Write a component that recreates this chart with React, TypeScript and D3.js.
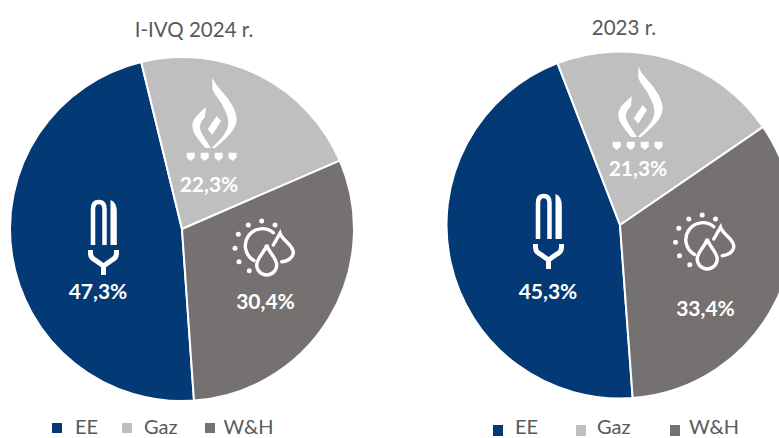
import React from "react";
import * as d3 from "d3";

const categories = ["EE", "Gaz", "W&H"];
const colors = ["#033A75", "#BFBFBF", "#767171"];
const titles = ["I-IVQ 2024 r.", "2023 r."];
const values2024 = [47.3, 22.3, 30.4];
const values2023 = [45.3, 21.3, 33.4];
const labels2024 = ["47,3%", "22,3%", "30,4%"];
const labels2023 = ["45,3%", "21,3%", "33,4%"];

const FONT = "Lato, 'Open Sans', sans-serif";

function Bulb({ x, y }: { x: number; y: number }) {
  return (
    <g transform={`translate(${x},${y})`} fill="none" stroke="#fff">
      <path d="M-10,23 V-13 Q-10,-20 -4.2,-20 Q1.5,-20 1.5,-13 V23" strokeWidth={4.5} />
      <path d="M7.5,23 V-22 Q13.8,-20 13.8,-10 V23 Z" fill="#fff" stroke="none" />
      <path d="M-12.5,28 V31 Q-12.5,36 -8,38 L0.5,44 L9,38 Q13.5,36 13.5,31 V28" strokeWidth={5} />
      <path d="M0.5,43 V53" strokeWidth={5} />
    </g>
  );
}

function Flame({ x, y }: { x: number; y: number }) {
  return (
    <g transform={`translate(${x},${y})`} fill="#fff">
      <path d="M-1.7,-40 C2,-28 21,-17 22.7,1.7 C23,13 11,22 1,31 L-2.3,31 C6,23 14.5,15 14.3,5 C14,-3 10,-8 7.7,-13.3 C4,-19 0,-23 -1.7,-28 Z" />
      <path d="M-8.3,-10 L-9,0 C-12,3 -14.5,7 -14,11.7 C-13,17 -7,24 -3,31 L-9,31 C-13,25 -22,17 -21.7,8.3 C-21.5,1 -13,-5 -8.3,-10 Z" />
      <path d="M2.7,-1 L7,4 L-1.7,17.7 L-6.3,12.3 Z" />
      {[-27.3, -13.3, 0.7, 14.5].map((d) => (
        <path key={d} d={`M${d},35.7 h8 v5 l-4,3.3 l-4,-3.3 Z`} />
      ))}
    </g>
  );
}

function Drops({ x, y }: { x: number; y: number }) {
  const dots = [[-3.3, -26], [-16.7, -22], [10, -22], [-26.7, -12.7], [-30, 1.3], [-26, 14.7], [-15.7, 23.7]];
  return (
    <g transform={`translate(${x},${y})`} fill="none" stroke="#fff" strokeWidth={3.4} strokeLinecap="round">
      <path d="M8.3,-14.3 A17,17 0 1 0 -11,13.5" />
      <path d="M8.3,-2 L15,-13.7 C17,-7 28,-2 28.3,5 C28.5,10 23,14.5 16.7,14.7" />
      <path d="M1.7,-2 C3.5,5 11.7,11 11.7,18 A10,10 0 0 1 -8.3,18 C-8.3,11 0,5 1.7,-2 Z" />
      {dots.map(([a, b], i) => (
        <circle key={i} cx={a} cy={b} r={2.5} fill="#fff" stroke="none" />
      ))}
    </g>
  );
}

function Pie({ values, labels, title, cx, cy, r, start, titleY, labelPos, icons, legendXs, legendTextXs, legendY, rectY, rectH }: any) {
  const pie = d3
    .pie<number>()
    .sort(null)
    .startAngle((start * Math.PI) / 180)
    .endAngle((start * Math.PI) / 180 + 2 * Math.PI);
  const arc = d3.arc<d3.PieArcDatum<number>>().innerRadius(0).outerRadius(r);
  const arcs = pie(values);
  return (
    <g>
      <text x={title.x} y={titleY} textAnchor="middle" fontFamily={FONT} fontSize={20.5} fill="#595959">
        {title.text}
      </text>
      <g transform={`translate(${cx},${cy})`}>
        {arcs.map((a: any, i: number) => (
          <path key={i} d={arc(a) as string} fill={colors[i]} stroke="#fff" strokeWidth={2} />
        ))}
      </g>
      <Bulb x={icons[0][0]} y={icons[0][1]} />
      <Flame x={icons[1][0]} y={icons[1][1]} />
      <Drops x={icons[2][0]} y={icons[2][1]} />
      {labels.map((t: string, i: number) => (
        <text key={i} x={labelPos[i][0]} y={labelPos[i][1]} textAnchor="middle" fontFamily={FONT} fontWeight={700} fontSize={21} fill="#fff">
          {t}
        </text>
      ))}
      {categories.map((c, i) => (
        <g key={c}>
          <rect x={legendXs[i]} y={rectY} width={10} height={rectH} fill={colors[i]} />
          <text x={legendTextXs[i]} y={legendY} fontFamily={FONT} fontSize={20} fill="#595959">
            {c}
          </text>
        </g>
      ))}
    </g>
  );
}

export default function App() {
  return (
    <svg
      width={779}
      height={438}
      viewBox="0 0 779 438"
      style={{ position: "absolute", left: 0, top: 0, background: "#fff" }}
    >
      <Pie
        values={values2024}
        labels={labels2024}
        title={{ text: titles[0], x: 194 }}
        cx={182}
        cy={229}
        r={172}
        start={176}
        titleY={37}
        labelPos={[[98, 299], [209, 192], [265.5, 309]]}
        icons={[[103, 222], [214, 117], [265, 247]]}
        legendXs={[52, 122, 205]}
        legendTextXs={[75, 144, 223.5]}
        legendY={433.5}
        rectY={423}
        rectH={10}
      />
      <Pie
        values={values2023}
        labels={labels2023}
        title={{ text: titles[1], x: 624 }}
        cx={620}
        cy={225}
        r={173.5}
        start={175.8}
        titleY={35}
        labelPos={[[548, 299], [638, 176], [705.5, 316]]}
        icons={[[548, 216], [640, 106], [705.5, 241]]}
        legendXs={[493, 576, 670]}
        legendTextXs={[515, 597, 689]}
        legendY={433.5}
        rectY={425}
        rectH={11}
      />
    </svg>
  );
}
